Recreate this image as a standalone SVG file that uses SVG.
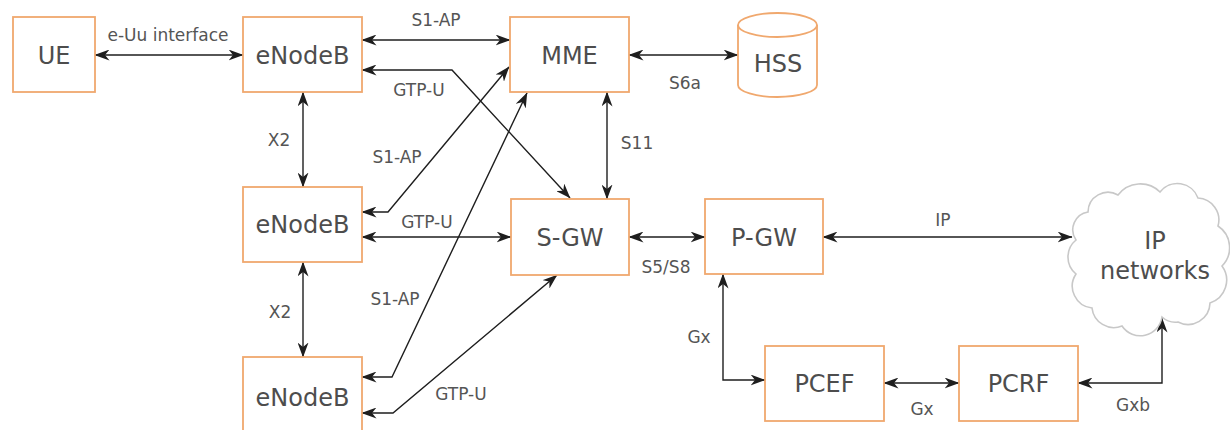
<svg xmlns="http://www.w3.org/2000/svg" width="1230" height="430" viewBox="0 0 1230 430">
  <style>
    .box { fill: #ffffff; stroke: #f0a86e; stroke-width: 1.8; }
    .nlabel { font-family: "DejaVu Sans", "Liberation Sans", sans-serif; font-size: 24px; fill: #4d4d4d; text-anchor: middle; }
    .elabel { font-family: "DejaVu Sans", "Liberation Sans", sans-serif; font-size: 17px; fill: #555555; text-anchor: middle; }
    .conn { fill: none; stroke: #1e1e1e; stroke-width: 1.4; marker-start: url(#arr); marker-end: url(#arr); }
    .cloud { fill: #ffffff; stroke: #c8c8c8; stroke-width: 1.6; }
  </style>
  <defs>
    <marker id="arr" viewBox="0 0 15 11" refX="14.5" refY="5.5" markerWidth="15" markerHeight="11" markerUnits="userSpaceOnUse" orient="auto-start-reverse">
      <path d="M0,0 L15,5.5 L0,11 L4.5,5.5 Z" fill="#1e1e1e"/>
    </marker>
  </defs>
  <rect width="1230" height="430" fill="#ffffff"/>

  <g id="connectors">
    <path class="conn" d="M95,55 H243"/>
    <path class="conn" d="M362,40 H510"/>
    <path class="conn" d="M362,70 H452 L570,198"/>
    <path class="conn" d="M629,55 H738"/>
    <path class="conn" d="M303,92 V187"/>
    <path class="conn" d="M303,262 V357"/>
    <path class="conn" d="M607,92 V199"/>
    <path class="conn" d="M362,212 H388 L509,67"/>
    <path class="conn" d="M362,237 H511"/>
    <path class="conn" d="M362,377 H392 L527,93"/>
    <path class="conn" d="M362,413 H393 L557,275"/>
    <path class="conn" d="M629,237 H705"/>
    <path class="conn" d="M823,237 H1072"/>
    <path class="conn" d="M723,274 V380 H765"/>
    <path class="conn" d="M884,383 H959"/>
    <path class="conn" d="M1078,383 H1162 V318"/>
    <text class="elabel" x="168" y="41">e-Uu interface</text>
    <text class="elabel" x="436" y="26">S1-AP</text>
    <text class="elabel" x="419" y="96">GTP-U</text>
    <text class="elabel" x="685" y="89">S6a</text>
    <text class="elabel" x="279" y="146">X2</text>
    <text class="elabel" x="637" y="149">S11</text>
    <text class="elabel" x="397" y="163">S1-AP</text>
    <text class="elabel" x="427" y="228">GTP-U</text>
    <text class="elabel" x="666" y="273">S5/S8</text>
    <text class="elabel" x="943" y="226">IP</text>
    <text class="elabel" x="280" y="318">X2</text>
    <text class="elabel" x="395" y="305">S1-AP</text>
    <text class="elabel" x="461" y="400">GTP-U</text>
    <text class="elabel" x="699" y="343">Gx</text>
    <text class="elabel" x="922" y="415">Gx</text>
    <text class="elabel" x="1133" y="411">Gxb</text>
  </g>

  <g id="ue"><rect class="box" x="13" y="17" width="82" height="75"/><text class="nlabel" x="54" y="64">UE</text></g>
  <g id="enodeb1"><rect class="box" x="243" y="17" width="119" height="75"/><text class="nlabel" x="302.5" y="64">eNodeB</text></g>
  <g id="mme"><rect class="box" x="510" y="17" width="119" height="75"/><text class="nlabel" x="569.5" y="64">MME</text></g>
  <g id="hss">
    <path class="box" d="M738,25 A39.5,12 0 0 1 817,25 L817,85 A39.5,12 0 0 1 738,85 Z"/>
    <path class="box" d="M738,25 A39.5,12 0 0 0 817,25" fill="none"/>
    <text class="nlabel" x="778" y="72">HSS</text>
  </g>
  <g id="enodeb2"><rect class="box" x="243" y="187" width="119" height="75"/><text class="nlabel" x="302.5" y="233">eNodeB</text></g>
  <g id="sgw"><rect class="box" x="511" y="199" width="118" height="76"/><text class="nlabel" x="570" y="246">S-GW</text></g>
  <g id="enodeb3"><rect class="box" x="243" y="357" width="119" height="80"/><text class="nlabel" x="302.5" y="406">eNodeB</text></g>
  <g id="pgw"><rect class="box" x="705" y="199" width="118" height="75"/><text class="nlabel" x="764" y="246">P-GW</text></g>
  <g id="pcef"><rect class="box" x="765" y="346" width="119" height="75"/><text class="nlabel" x="824.5" y="392">PCEF</text></g>
  <g id="pcrf"><rect class="box" x="959" y="346" width="119" height="75"/><text class="nlabel" x="1018.5" y="392">PCRF</text></g>
  <g id="ip-networks">
    <path class="cloud" d="M1088,212 A20,20 0 0 1 1118,195 A28,28 0 0 1 1160,192 A22,22 0 0 1 1198,198 A22,22 0 0 1 1218,226 A26,26 0 0 1 1222,266 A24,24 0 0 1 1210,303 A22,22 0 0 1 1178,322 A20,20 0 0 1 1162,317 A22,22 0 0 1 1122,326 A22,22 0 0 1 1092,308 A22,22 0 0 1 1076,274 A22,22 0 0 1 1076,240 A18,18 0 0 1 1088,212 Z"/>
    <text class="nlabel" x="1155" y="249">IP</text>
    <text class="nlabel" x="1155" y="279">networks</text>
  </g>
</svg>
